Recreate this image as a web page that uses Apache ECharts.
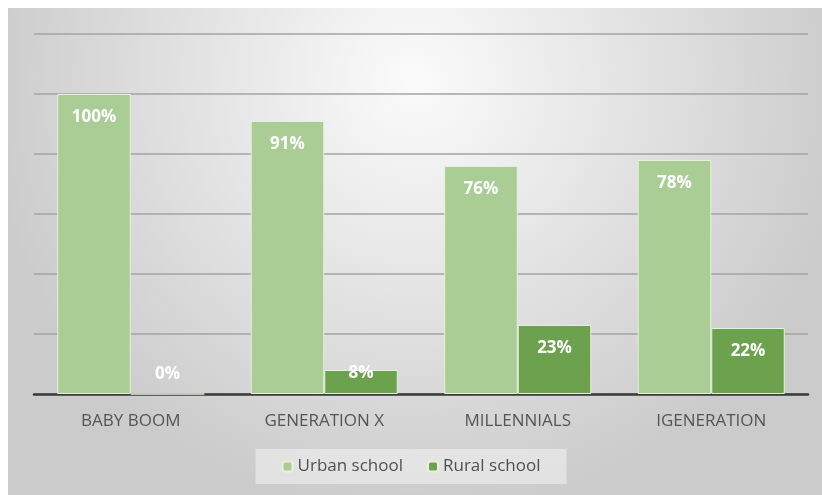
<!DOCTYPE html>
<html>
<head>
<meta charset="utf-8">
<script src="https://cdn.jsdelivr.net/npm/echarts@6/dist/echarts.min.js"></script>
<style>
  html, body { margin: 0; padding: 0; background: #fff; }
  #main { width: 822px; height: 495px; }
</style>
</head>
<body>
<div id="main"></div>
<script>
var myChart = echarts.init(document.getElementById('main'));

var categories = ['BABY BOOM', 'GENERATION X', 'MILLENNIALS', 'IGENERATION'];
var urban = [100, 91, 76, 78];
var rural = [0, 8, 23, 22];

// small bars get their label pushed to the bottom of the plot, as in the original
function toItems(values) {
  return values.map(function (v) {
    if (v < 10) {
      return { value: v, label: { position: 'insideBottom', distance: 12 } };
    }
    return v;
  });
}

var labelStyle = {
  show: true,
  position: 'insideTop',
  distance: 15,
  color: '#fff',
  fontWeight: 'bold',
  fontSize: 17,
  fontFamily: 'Open Sans',
  formatter: '{c}%'
};

var option = {
  backgroundColor: '#fff',
  animation: false,
  graphic: [{
    type: 'rect',
    z: -10,
    shape: { x: 8, y: 8, width: 814, height: 487 },
    style: {
      fill: new echarts.graphic.RadialGradient(0.5, 0.15, 0.9, [
        { offset: 0, color: '#fbfbfb' },
        { offset: 1, color: '#cbcbcb' }
      ])
    }
  }],
  grid: { left: 34, right: 14, top: 34, bottom: 101 },
  legend: {
    bottom: 11,
    left: 'center',
    itemWidth: 10,
    itemHeight: 10,
    itemGap: 24,
    padding: [9, 26],
    backgroundColor: 'rgba(240,240,240,0.6)',
    textStyle: { color: '#505050', fontSize: 17, fontFamily: 'Open Sans' },
    data: ['Urban school', 'Rural school']
  },
  xAxis: {
    type: 'category',
    data: categories,
    axisTick: { show: false },
    axisLine: { lineStyle: { color: '#3a3a3a', width: 2.5 } },
    axisLabel: { color: '#555', fontSize: 17, fontFamily: 'Open Sans', margin: 19 }
  },
  yAxis: {
    type: 'value',
    min: 0,
    max: 120,
    interval: 20,
    axisLabel: { show: false },
    axisLine: { show: false },
    axisTick: { show: false },
    splitLine: { lineStyle: { color: '#a3a3a3', width: 1.5 } }
  },
  series: [{
    name: 'Urban school',
    type: 'bar',
    data: toItems(urban),
    barWidth: '38%',
    barGap: '0%',
    itemStyle: { color: '#a9cd95', borderColor: '#e4f1dc', borderWidth: 1 },
    label: labelStyle
  }, {
    name: 'Rural school',
    type: 'bar',
    data: toItems(rural),
    barWidth: '38%',
    itemStyle: { color: '#6ca24d', borderColor: '#e4f1dc', borderWidth: 1 },
    label: labelStyle
  }]
};
myChart.setOption(option);
</script>
</body>
</html>
